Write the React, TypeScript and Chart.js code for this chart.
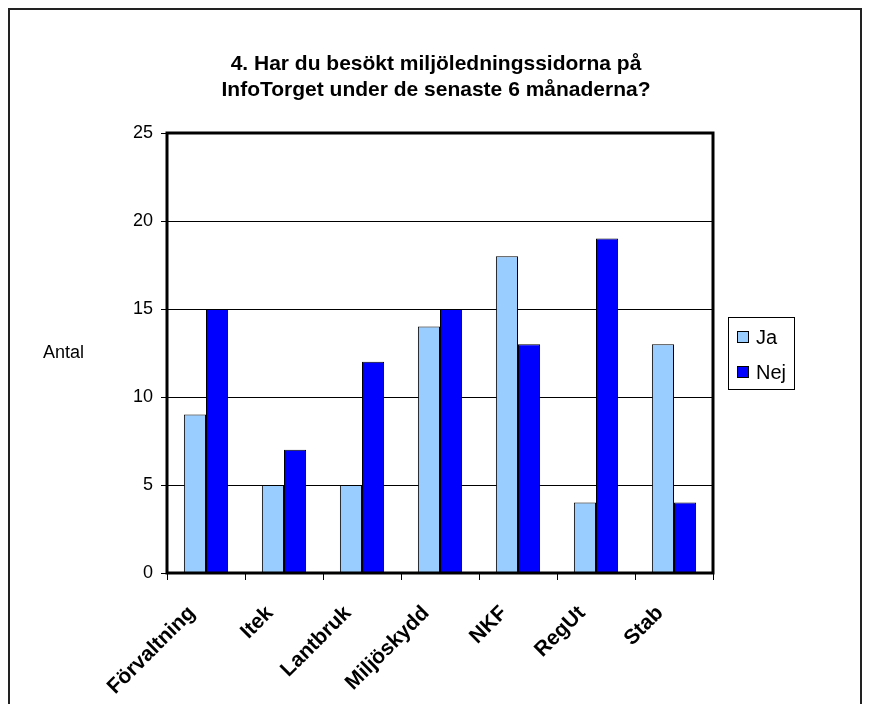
import React, { useEffect, useRef } from "react";
import { Chart, registerables } from "chart.js";

Chart.register(...registerables);

const categories = ["Förvaltning", "Itek", "Lantbruk", "Miljöskydd", "NKF", "RegUt", "Stab"];
const jaValues = [9, 5, 5, 14, 18, 4, 13];
const nejValues = [15, 7, 12, 15, 13, 19, 4];
const seriesNames = ["Ja", "Nej"];
const titleLines = ["4. Har du besökt miljöledningssidorna på", "InfoTorget under de senaste 6 månaderna?"];
const yAxisLabel = "Antal";
const yMin = 0;
const yMax = 25;
const yStep = 5;

const FONT = "'Liberation Sans', Arial, Helvetica, sans-serif";

const decorPlugin = {
  id: "decor",
  beforeDraw(chart: any) {
    const ctx = chart.ctx;
    ctx.save();
    ctx.fillStyle = "#ffffff";
    ctx.fillRect(0, 0, chart.width, chart.height);
    ctx.restore();
  },
  afterDatasetsDraw(chart: any) {
    const ctx = chart.ctx;
    const a = chart.chartArea;
    ctx.save();
    // plot frame
    ctx.strokeStyle = "#000";
    ctx.lineWidth = 3;
    ctx.strokeRect(a.left, a.top, a.right - a.left, a.bottom - a.top);

    // y axis label (horizontal)
    ctx.fillStyle = "#000";
    ctx.font = `18px ${FONT}`;
    ctx.textAlign = "right";
    ctx.textBaseline = "middle";
    ctx.fillText(yAxisLabel, a.left - 83, (a.top + a.bottom) / 2);

    // legend
    const lw = 66;
    const lh = 72;
    const lx = Math.round(a.right + 15);
    const ly = Math.round((a.top + a.bottom) / 2 - lh / 2);
    ctx.lineWidth = 1;
    ctx.strokeStyle = "#000";
    ctx.strokeRect(lx + 0.5, ly + 0.5, lw, lh);
    chart.data.datasets.forEach((ds: any, i: number) => {
      const cy = ly + 20 + i * 35;
      ctx.fillStyle = ds.backgroundColor;
      ctx.fillRect(lx + 9, cy - 6, 12, 12);
      ctx.strokeStyle = "#000";
      ctx.strokeRect(lx + 9.5, cy - 5.5, 11, 11);
      ctx.fillStyle = "#000";
      ctx.font = `20px ${FONT}`;
      ctx.textAlign = "left";
      ctx.textBaseline = "middle";
      ctx.fillText(ds.label, lx + 28, cy + 1);
    });

    // outer border
    ctx.lineWidth = 2;
    ctx.strokeStyle = "#222";
    ctx.strokeRect(9, 9, 852, 720);
    ctx.restore();
  },
};

export default function App() {
  const canvasRef = useRef<HTMLCanvasElement | null>(null);

  useEffect(() => {
    if (!canvasRef.current) return;
    const chart = new Chart(canvasRef.current, {
      type: "bar",
      data: {
        labels: categories,
        datasets: [
          {
            label: seriesNames[0],
            data: jaValues,
            backgroundColor: "#99CCFF",
            borderColor: "#000",
            borderWidth: 1,
            categoryPercentage: 0.567,
            barPercentage: 1.0,
          },
          {
            label: seriesNames[1],
            data: nejValues,
            backgroundColor: "#0000FF",
            borderColor: "#000",
            borderWidth: 1,
            categoryPercentage: 0.567,
            barPercentage: 1.0,
          },
        ],
      },
      options: {
        responsive: false,
        animation: false,
        devicePixelRatio: 1,
        layout: { padding: { left: 0, right: 0, top: 0, bottom: 0 } },
        plugins: {
          legend: { display: false },
          tooltip: { enabled: false },
          title: {
            display: true,
            text: titleLines,
            color: "#000",
            font: { family: FONT, size: 21, weight: "bold", lineHeight: 1.2 },
            padding: { top: 52, bottom: 30.6 },
          },
        },
        scales: {
          x: {
            grid: {
              display: true,
              drawOnChartArea: false,
              drawTicks: true,
              tickLength: 7,
              color: "#000",
              offset: true,
            },
            border: { display: false },
            ticks: {
              autoSkip: false,
              maxRotation: 45,
              minRotation: 45,
              color: "#000",
              font: { family: FONT, size: 21, weight: "bold" },
              padding: 21,
              labelOffset: -14,
            },
            afterFit: (s: any) => {
              s.height = 131;
            },
          },
          y: {
            min: yMin,
            max: yMax,
            ticks: {
              stepSize: yStep,
              color: "#000",
              font: { family: FONT, size: 18 },
              padding: 8,
            },
            grid: { color: "#000", lineWidth: 1, tickLength: 6, drawTicks: true },
            border: { display: false },
            afterFit: (s: any) => {
              s.width = 167;
            },
          },
          yRight: {
            position: "right",
            display: true,
            grid: { display: false, drawTicks: false },
            border: { display: false },
            ticks: { display: false },
            afterFit: (s: any) => {
              s.width = 159;
            },
          },
        },
      },
      plugins: [decorPlugin],
    } as any);
    return () => chart.destroy();
  }, []);

  return (
    <div style={{ position: "absolute", left: 0, top: 0, width: 872, height: 704, background: "#fff" }}>
      <canvas ref={canvasRef} width={872} height={704} style={{ display: "block", width: 872, height: 704 }} />
    </div>
  );
}
